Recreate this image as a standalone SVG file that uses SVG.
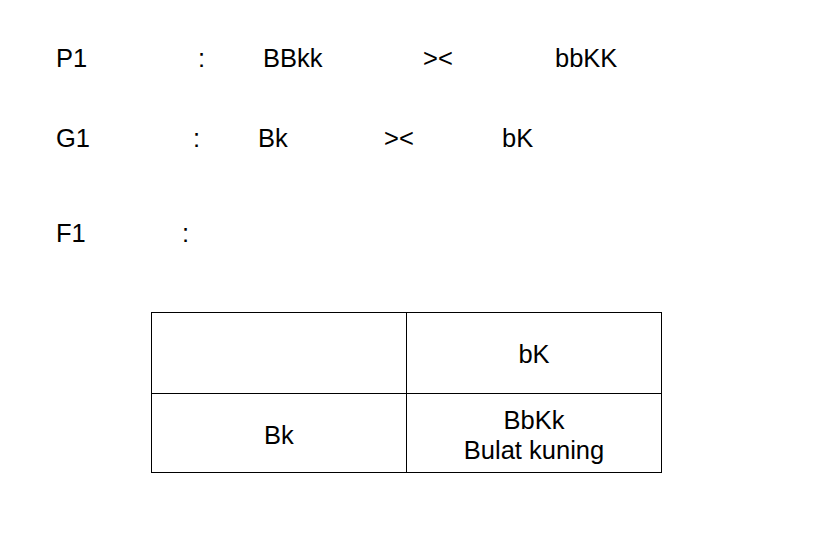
<svg xmlns="http://www.w3.org/2000/svg" width="840" height="542" viewBox="0 0 840 542">
<style>
text{font-family:"Liberation Sans",Arial,sans-serif;font-size:25.5px;fill:#000}
.c{text-anchor:middle}
.cell{fill:#fff;stroke:#000;stroke-width:1}
</style>
<rect width="840" height="542" fill="#fff"/>
<g id="labels">
<text x="56" y="67">P1</text><text x="198" y="67">:</text><text x="263" y="67">BBkk</text><text x="423" y="67">&gt;&lt;</text><text x="555" y="67">bbKK</text>
<text x="56" y="147">G1</text><text x="193" y="147">:</text><text x="258" y="147">Bk</text><text x="384" y="147">&gt;&lt;</text><text x="502" y="147">bK</text>
<text x="56" y="242">F1</text><text x="182" y="242">:</text>
</g>
<g id="table">
<rect class="cell" x="151.5" y="312.5" width="255" height="81"/>
<rect class="cell" x="406.5" y="312.5" width="255" height="81"/>
<rect class="cell" x="151.5" y="393.5" width="255" height="79"/>
<rect class="cell" x="406.5" y="393.5" width="255" height="79"/>
<text class="c" x="534" y="363">bK</text>
<text class="c" x="279" y="444">Bk</text>
<text class="c" x="534" y="429">BbKk</text>
<text class="c" x="534" y="459">Bulat kuning</text>
</g>
</svg>
